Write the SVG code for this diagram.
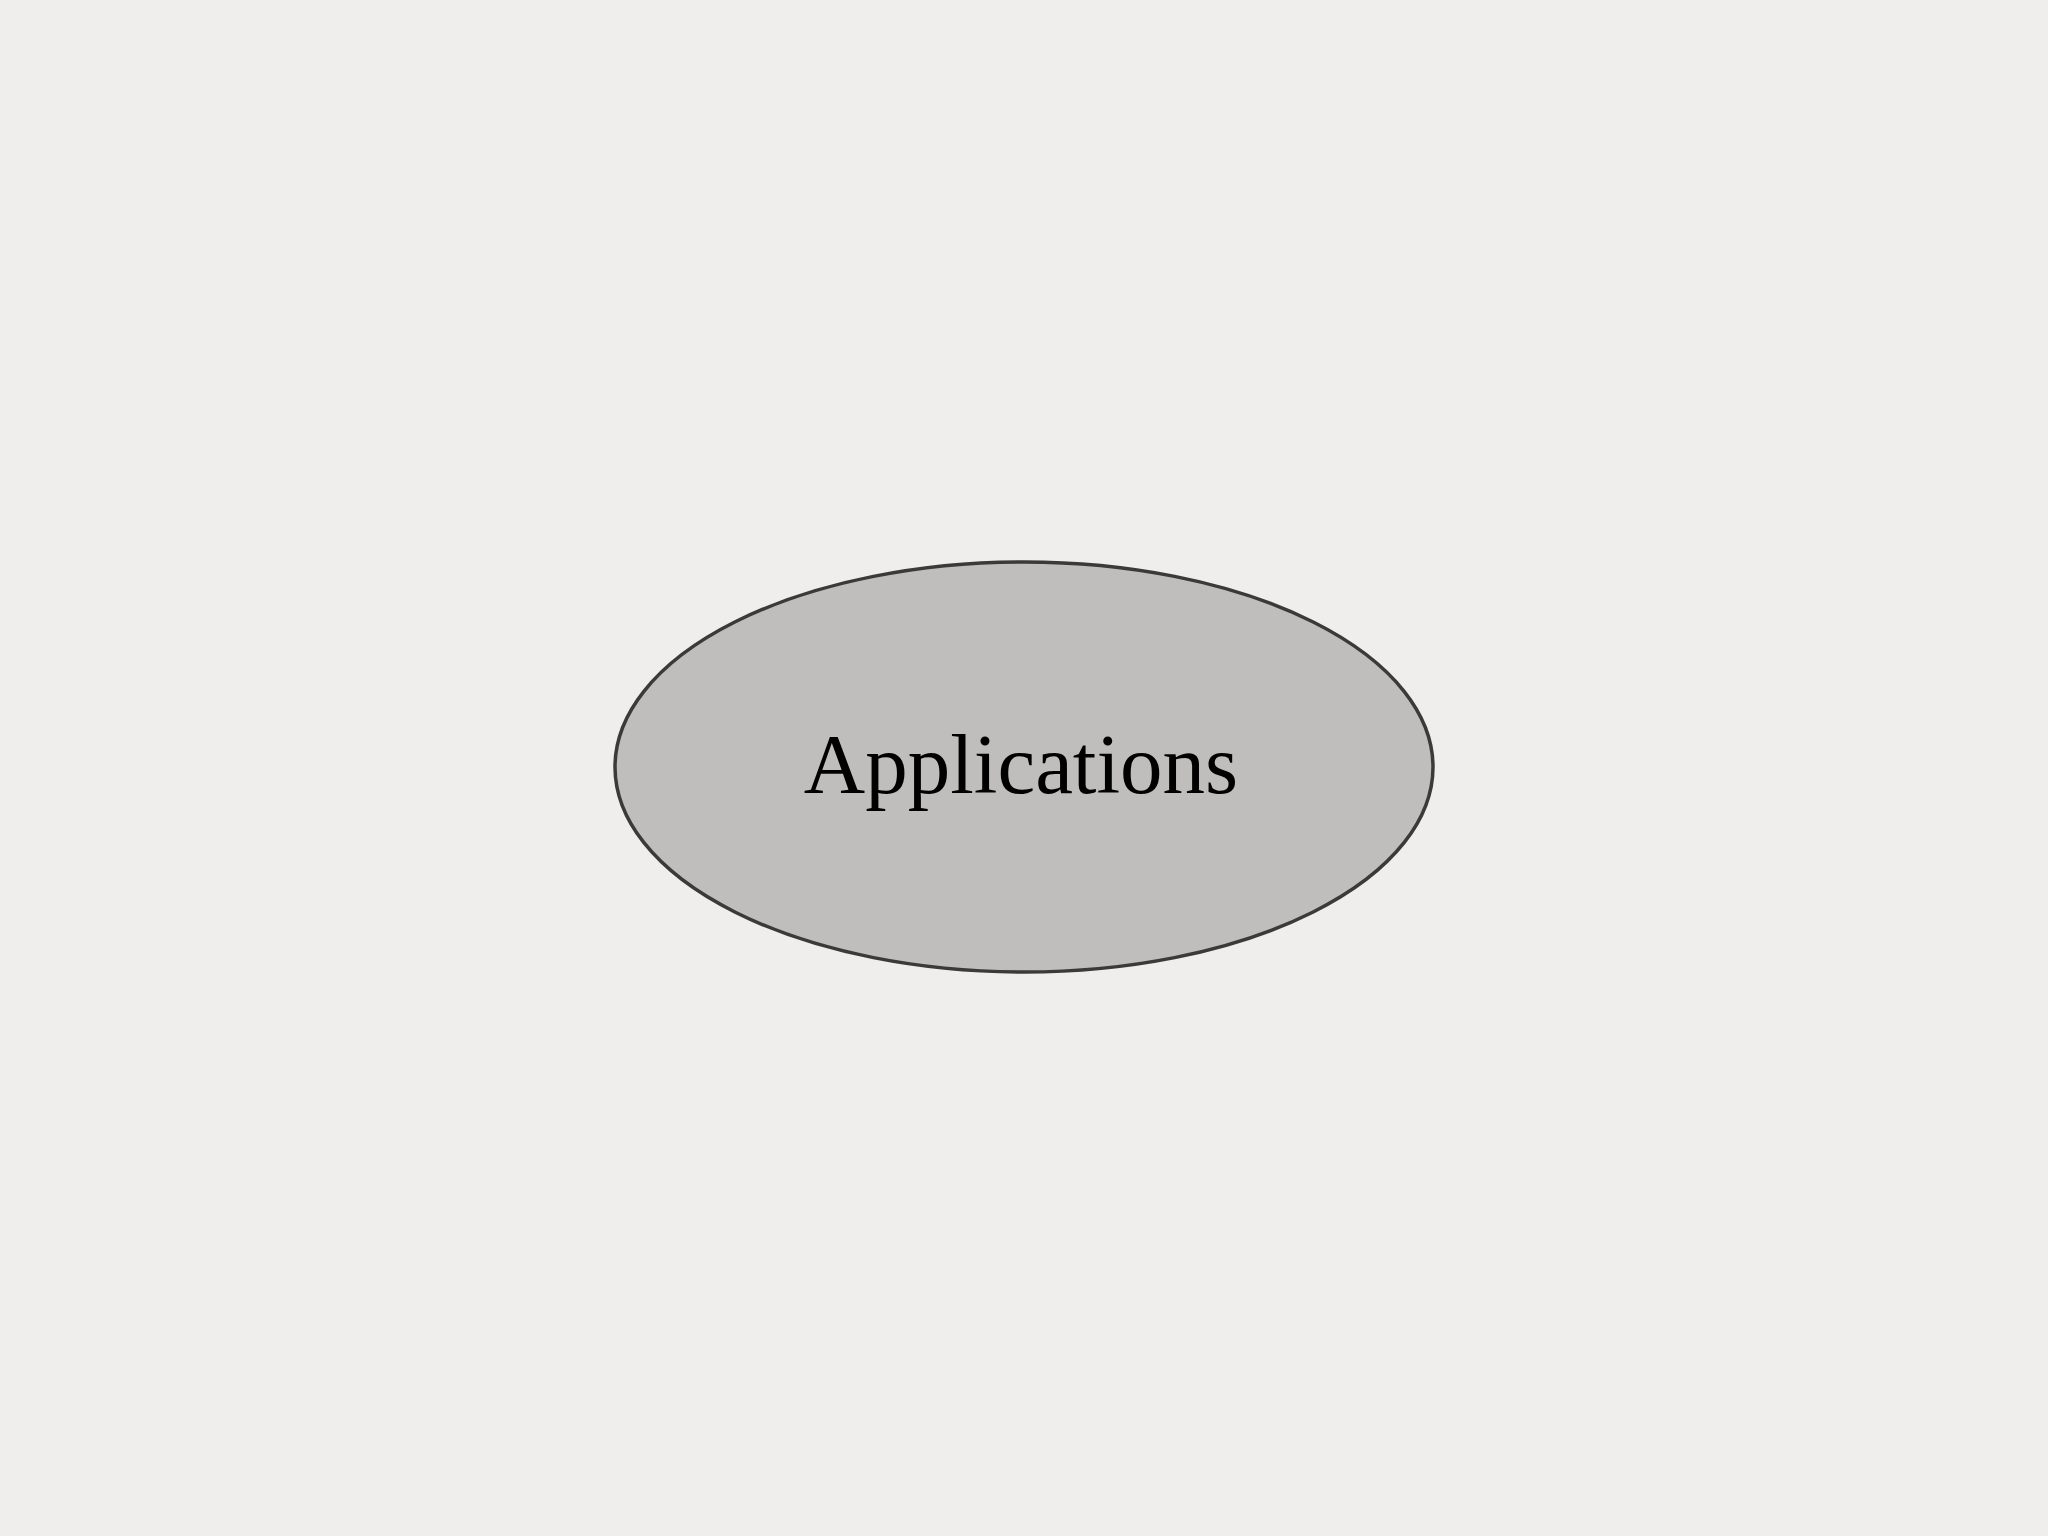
<svg xmlns="http://www.w3.org/2000/svg" width="2048" height="1536" viewBox="0 0 2048 1536">
<style>
.node-shape{fill:#bfbebc;stroke:#3a3a3a;stroke-width:3.5}
.node-label{font-family:"Liberation Serif","Times New Roman",serif;font-size:85px;fill:#000;text-anchor:middle}
</style>
<rect x="0" y="0" width="2048" height="1536" fill="#efeeec"/>
<g id="connectors"></g>
<g id="node-applications">
<ellipse class="node-shape" cx="1024" cy="767" rx="409" ry="205"/>
<text class="node-label" x="1021" y="793">Applications</text>
</g>
</svg>
